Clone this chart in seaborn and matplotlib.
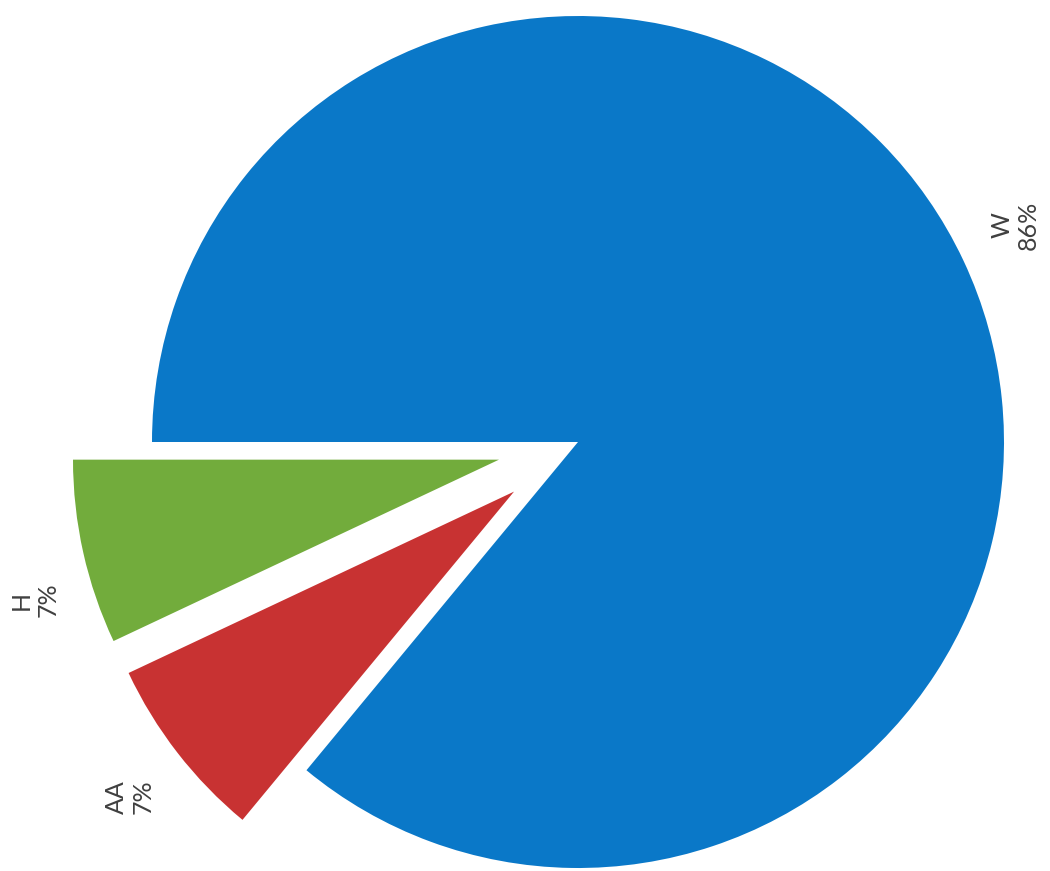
import matplotlib
matplotlib.use("Agg")
import matplotlib.pyplot as plt
import seaborn as sns

categories = ["H", "AA", "W"]
values = [7, 7, 86]
pct_labels = ["7%", "7%", "86%"]
colors = ["#72AC3C", "#C83232", "#0A78C8"]
explode = [0.19, 0.19, 0.0]

sns.set_theme(style="white")
plt.rcParams['font.family'] = ['Lato', 'DejaVu Sans']

fig = plt.figure(figsize=(10.5, 8.71), dpi=100)
ax = fig.add_axes([0, 0, 1, 1])
palette = sns.color_palette(colors)

wedges, texts = ax.pie(values, colors=palette, explode=explode, startangle=180,
                       counterclock=True, radius=1.0,
                       labels=[f"{c}\n{p}" for c, p in zip(categories, pct_labels)],
                       labeldistance=1.15,
                       wedgeprops=dict(linewidth=0),
                       textprops=dict(fontsize=18, color="#404040", rotation=90,
                                      ha="center", va="center"))

# label placement (layout)
label_pos = {"H": (-1.275, -0.371), "AA": (-1.052, -0.833), "W": (1.026, 0.509)}
for t, c in zip(texts, categories):
    t.set_position(label_pos[c])
    t.set_ha("center")
    t.set_va("center")
    t.set_rotation(90)
    t.set_rotation_mode("anchor")

ax.set_xlim(-578 / 426, 472 / 426)
ax.set_ylim((442 - 871) / 426, 442 / 426)
ax.set_aspect("equal")
ax.axis("off")

fig.savefig("out.png", dpi=100, facecolor="white")
